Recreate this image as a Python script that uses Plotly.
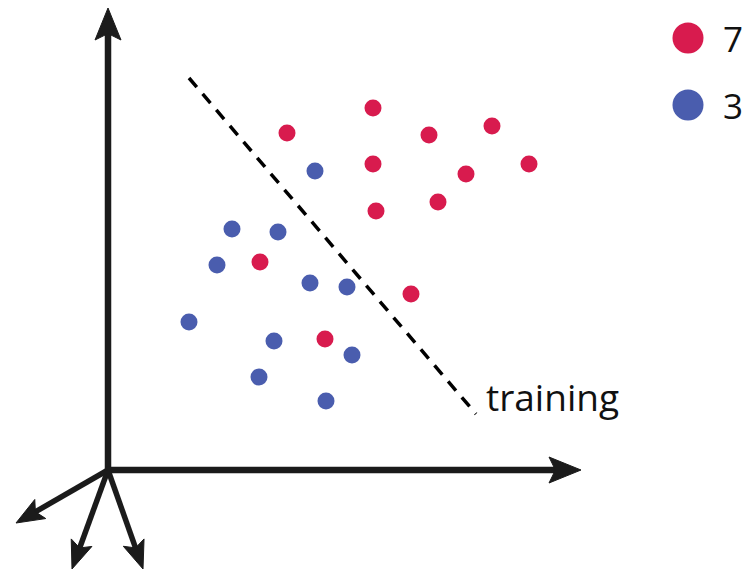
import plotly.graph_objects as go
import math

# Data (positions, in the diagram's own coordinate frame)
red_x = [373, 287, 429, 492, 373, 466, 529, 376, 438, 260, 411, 325]
red_y = [108, 133, 135, 126, 164, 174, 164, 211, 202, 262, 294, 339]
blue_x = [315, 232, 278, 217, 310, 347, 189, 274, 352, 259, 326]
blue_y = [171, 229, 232, 265, 283, 287, 322, 341, 355, 377, 401]
legend_labels = ["7", "3"]
boundary_x = [189, 476]
boundary_y = [78, 414]
boundary_label = "training"

RED = "#D81B4E"
BLUE = "#4A5DAE"
INK = "#1b1b1b"

W, H = 751, 577
OFF = 8  # page body margin
fig = go.Figure()

fig.add_trace(go.Scatter(x=red_x, y=red_y, mode="markers",
                         marker=dict(size=17, color=RED), showlegend=False, hoverinfo="skip"))
fig.add_trace(go.Scatter(x=blue_x, y=blue_y, mode="markers",
                         marker=dict(size=17, color=BLUE), showlegend=False, hoverinfo="skip"))

# legend dots
fig.add_trace(go.Scatter(x=[688, 688], y=[38, 105], mode="markers",
                         marker=dict(size=31, color=[RED, BLUE]), showlegend=False, hoverinfo="skip"))
for lbl, yy in zip(legend_labels, [38, 105]):
    fig.add_annotation(x=721, y=yy, text=lbl, showarrow=False, xanchor="left", yanchor="middle",
                       font=dict(size=35, color="#111", family="Open Sans"))

shapes = []
# dashed boundary
shapes.append(dict(type="line", x0=boundary_x[0], y0=boundary_y[0], x1=boundary_x[1], y1=boundary_y[1],
                   line=dict(color="#000", width=3.5, dash="12px,9px")))
fig.add_annotation(x=484, y=396, text=boundary_label, showarrow=False, xanchor="left", yanchor="middle",
                   font=dict(size=37, color="#111", family="Open Sans"))


def arrow(x0, y0, x1, y1, width, L, hw):
    dx, dy = x1 - x0, y1 - y0
    d = math.hypot(dx, dy)
    ux, uy = dx / d, dy / d
    px, py = -uy, ux
    ex, ey = x1 - ux * L * 0.6, y1 - uy * L * 0.6
    shapes.append(dict(type="line", x0=x0, y0=y0, x1=ex, y1=ey,
                       line=dict(color=INK, width=width)))
    bx, by = x1 - ux * L, y1 - uy * L
    nx, ny = x1 - ux * L * 0.8, y1 - uy * L * 0.8
    path = (f"M{x1},{y1} L{bx + px * hw},{by + py * hw} L{nx},{ny} "
            f"L{bx - px * hw},{by - py * hw} Z")
    shapes.append(dict(type="path", path=path, fillcolor=INK, line=dict(color=INK, width=1)))


ox, oy = 108, 470
arrow(ox, oy + 3, ox, 8, 6.5, 32, 13)
arrow(ox - 3, oy, 581, oy, 6.5, 32, 13)
arrow(ox, oy, 16, 523, 5.5, 28, 11)
arrow(ox, oy, 72, 569, 5.5, 28, 11)
arrow(ox, oy, 143, 569, 5.5, 28, 11)

fig.update_layout(
    width=W - OFF, height=H - OFF, autosize=False,
    margin=dict(l=0, r=0, t=0, b=0),
    paper_bgcolor="white", plot_bgcolor="white",
    xaxis=dict(range=[OFF, W], visible=False, fixedrange=True),
    yaxis=dict(range=[H, OFF], visible=False, fixedrange=True),
    shapes=shapes,
    showlegend=False,
)

fig.write_html("out.html", config={"displayModeBar": False})
